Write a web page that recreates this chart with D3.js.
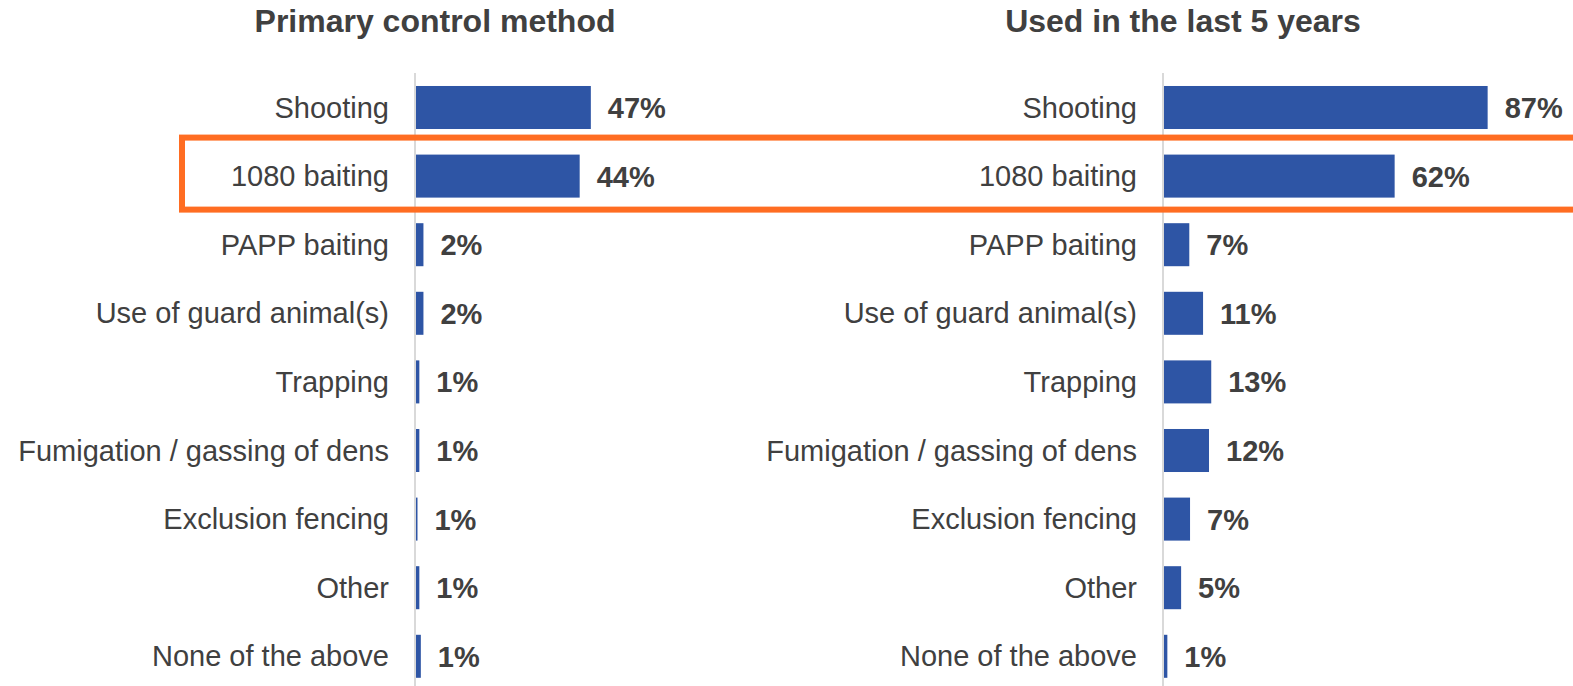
<!DOCTYPE html>
<html>
<head>
<meta charset="utf-8">
<script src="https://cdn.jsdelivr.net/npm/d3@7"></script>
<style>
  body { margin: 0; background: #fff; }
  text { font-family: "Liberation Sans", Arial, sans-serif; }
</style>
</head>
<body>
<div id="chart"></div>
<script>
const categories = ["Shooting", "1080 baiting", "PAPP baiting", "Use of guard animal(s)", "Trapping",
  "Fumigation / gassing of dens", "Exclusion fencing", "Other", "None of the above"]

// bar lengths, labels as printed
const primaryValues = [47, 44, 2.0, 2.0, 0.9, 0.9, 0.4, 0.9, 1.3]
const primaryLabels = ["47%", "44%", "2%", "2%", "1%", "1%", "1%", "1%", "1%"]
const lastFiveValues = [87, 62, 6.8, 10.5, 12.7, 12.1, 7.0, 4.6, 0.9]
const lastFiveLabels = ["87%", "62%", "7%", "11%", "13%", "12%", "7%", "5%", "1%"]

const panels = [
  { title: "Primary control method", values: primaryValues, labels: primaryLabels, axisX: 415 },
  { title: "Used in the last 5 years", values: lastFiveValues, labels: lastFiveLabels, axisX: 1163 }
]
const highlight = "1080 baiting"

const width = 1573
const height = 686
const barColor = "#2E55A5"
const textColor = "#404040"
const orange = "#FF6D22"

const svg = d3.select("#chart")
    .append("svg")
    .attr("width", width)
    .attr("height", height)

// rows: bar tops at 86 .. 635, step ~68.6
const y = d3.scaleBand()
    .domain(categories)
    .range([73.2, 73.2 + 68.6 * 9])
    .paddingInner(0.373)
    .paddingOuter(0.1865)

const x = d3.scaleLinear()
    .domain([0, 100])
    .range([0, 372])

panels.forEach(p => {
  const g = svg.append("g").attr("transform", `translate(${p.axisX},0)`)

  g.append("text")
      .attr("x", 20)
      .attr("y", 32)
      .attr("text-anchor", "middle")
      .attr("fill", textColor)
      .style("font-size", "32px")
      .style("font-weight", "bold")
      .text(p.title)

  g.selectAll("rect.bar")
      .data(categories)
      .join("rect")
      .attr("class", "bar")
      .attr("x", 1)
      .attr("y", d => y(d))
      .attr("width", (d, i) => x(p.values[i]))
      .attr("height", y.bandwidth())
      .attr("fill", barColor)

  g.append("line")
      .attr("x1", 0).attr("x2", 0)
      .attr("y1", 73).attr("y2", height)
      .attr("stroke", "#d9d9d9")
      .attr("stroke-width", 2)

  g.selectAll("text.cat")
      .data(categories)
      .join("text")
      .attr("class", "cat")
      .attr("x", -26)
      .attr("y", d => y(d) + y.bandwidth() / 2)
      .attr("dy", "0.35em")
      .attr("text-anchor", "end")
      .attr("fill", textColor)
      .style("font-size", "29px")
      .text(d => d)

  g.selectAll("text.val")
      .data(categories)
      .join("text")
      .attr("class", "val")
      .attr("x", (d, i) => x(p.values[i]) + 18)
      .attr("y", d => y(d) + y.bandwidth() / 2)
      .attr("dy", "0.36em")
      .attr("fill", textColor)
      .style("font-size", "29px")
      .style("font-weight", "bold")
      .text((d, i) => p.labels[i])
})

// orange box round the 1080 row
svg.append("rect")
    .attr("x", 182)
    .attr("y", y(highlight) - 17)
    .attr("width", 1420)
    .attr("height", y.bandwidth() + 29)
    .attr("fill", "none")
    .attr("stroke", orange)
    .attr("stroke-width", 6)
</script>
</body>
</html>
